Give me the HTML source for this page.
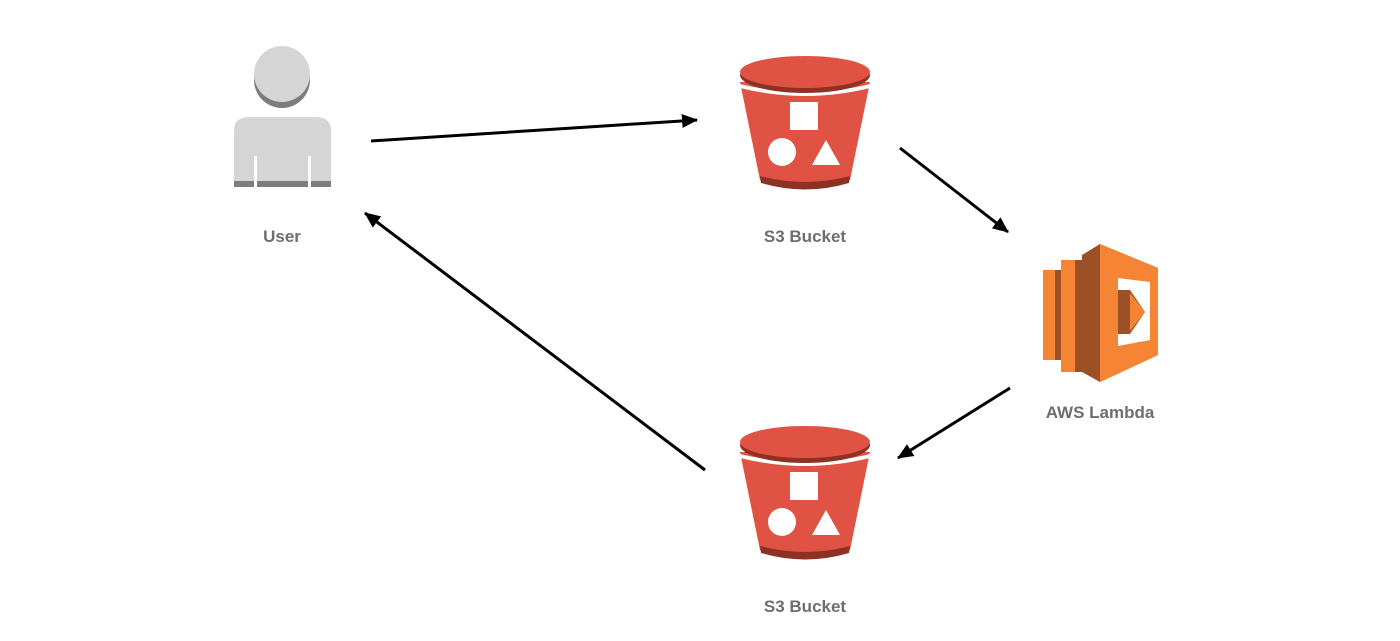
<!DOCTYPE html>
<html><head><style>body{margin:0;background:#fff}svg{display:block}</style></head><body>
<svg width="1400" height="641" viewBox="0 0 1400 641" xmlns="http://www.w3.org/2000/svg">
<defs>
<marker id="a" markerWidth="16" markerHeight="14" refX="15" refY="7" orient="auto" markerUnits="userSpaceOnUse" viewBox="0 0 16 14"><path d="M0,0 L16,7 L0,14z" fill="#000"/></marker>
<g id="b">
<path d="M740,82 L760,180 Q805,192 850,180 L870,82 Z" fill="#e05243"/>
<path d="M760,176 Q805,188 850,176 L849,183 Q805,196 761,183Z" fill="#8c3123"/>
<path d="M740,84 Q805,100 870,84 L870,88 Q805,104 740,88Z" fill="#fff"/>
<ellipse cx="805" cy="75" rx="65" ry="18" fill="#8c3123"/>
<ellipse cx="805" cy="72" rx="65" ry="16" fill="#e05243"/>
<rect x="790" y="102" width="28" height="28" fill="#fff"/>
<circle cx="782" cy="152" r="14" fill="#fff"/>
<path d="M826,140 L840,165 L812,165Z" fill="#fff"/>
</g>
</defs>
<!-- User -->
<circle cx="282" cy="80" r="28" fill="#7d7d7d"/>
<circle cx="282" cy="74" r="28" fill="#d5d5d5"/>
<path d="M234,187 L234,130 Q234,117 250,117 L315,117 Q331,117 331,130 L331,187Z" fill="#d5d5d5"/>
<rect x="234" y="181" width="97" height="6" fill="#7d7d7d"/>
<rect x="254" y="156" width="3" height="31" fill="#fff"/>
<rect x="308" y="156" width="3" height="31" fill="#fff"/>
<text x="282" y="242" font-family="Liberation Sans, sans-serif" font-weight="bold" font-size="17" fill="#6e6e6e" text-anchor="middle">User</text>
<!-- buckets -->
<use href="#b"/>
<use href="#b" transform="translate(0,370)"/>
<text x="805" y="242" font-family="Liberation Sans, sans-serif" font-weight="bold" font-size="17" fill="#6e6e6e" text-anchor="middle">S3 Bucket</text>
<text x="805" y="612" font-family="Liberation Sans, sans-serif" font-weight="bold" font-size="17" fill="#6e6e6e" text-anchor="middle">S3 Bucket</text>
<!-- Lambda -->
<rect x="1043" y="270" width="12" height="90" fill="#f58534"/>
<rect x="1055" y="270" width="6" height="90" fill="#9d5025"/>
<rect x="1061" y="260" width="14" height="112" fill="#f58534"/>
<rect x="1075" y="260" width="7" height="112" fill="#9d5025"/>
<path d="M1082,255 L1100,244 L1158,268 L1158,355 L1100,382 L1082,372Z" fill="#9d5025"/>
<path d="M1100,244 L1158,268 L1158,355 L1100,382Z" fill="#f58534"/>
<path d="M1118,278 L1150,282 L1150,340 L1118,346Z" fill="#fff"/>
<path d="M1118,290 L1130,290 L1145,312 L1130,334 L1118,334Z" fill="#9d5025"/>
<path d="M1130,293 L1145,312 L1130,331Z" fill="#f58534"/>
<text x="1100" y="418" font-family="Liberation Sans, sans-serif" font-weight="bold" font-size="17" fill="#6e6e6e" text-anchor="middle">AWS Lambda</text>
<!-- arrows -->
<g stroke="#000" stroke-width="3" fill="none">
<line x1="371" y1="141" x2="697" y2="120" marker-end="url(#a)"/>
<line x1="900" y1="148" x2="1008" y2="232" marker-end="url(#a)"/>
<line x1="1010" y1="388" x2="898" y2="458" marker-end="url(#a)"/>
<line x1="705" y1="470" x2="365" y2="213" marker-end="url(#a)"/>
</g>
</svg>
</body></html>
